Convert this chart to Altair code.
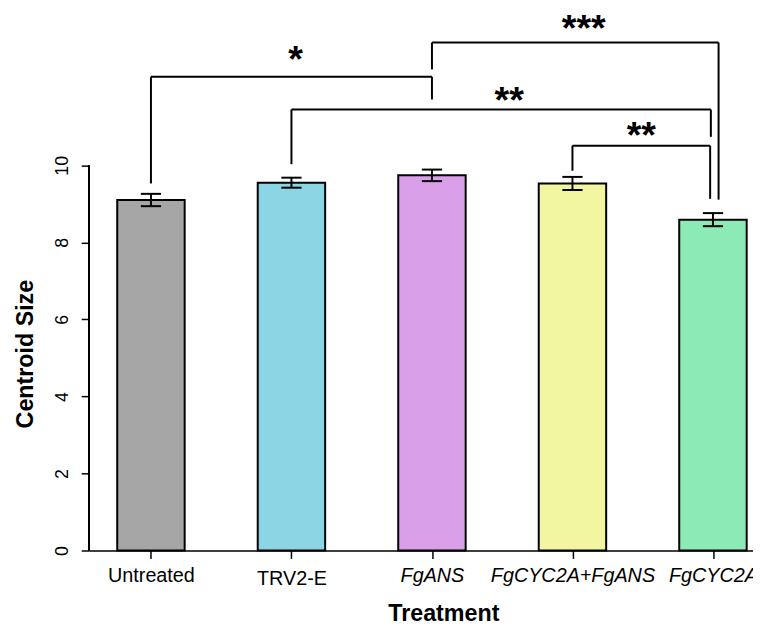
import altair as alt
import pandas as pd

# ---- data ----
treatments = ["Untreated", "TRV2-E", "FgANS", "FgCYC2A+FgANS", "FgCYC2A"]
italic_labels = ["FgANS", "FgCYC2A+FgANS", "FgCYC2A"]
means = [9.10, 9.55, 9.74, 9.53, 8.59]
ses = [0.16, 0.13, 0.15, 0.17, 0.17]
colors = ["#a6a6a6", "#8bd5e4", "#d99fe9", "#f3f6a0", "#8ceab7"]

# significance brackets: x in category positions (1..5), y in centroid-size units
br_x1 = [1.00, 3.00, 2.00, 4.00]
br_x2 = [3.00, 5.04, 4.985, 4.98]
br_top = [12.30, 13.19, 11.45, 10.51]
br_left_end = [9.53, 12.49, 10.03, 9.86]
br_right_end = [11.71, 9.11, 10.74, 9.13]
stars = ["*", "***", "**", "**"]
star_x = [2.03, 4.08, 3.55, 4.49]
star_y = [12.43, 13.24, 11.36, 10.46]

positions = list(range(1, len(treatments) + 1))

bars_df = pd.DataFrame({
    "treatment": treatments,
    "pos": positions,
    "mean": means,
    "se": ses,
})
br_df = pd.DataFrame({
    "x1": br_x1, "x2": br_x2, "top": br_top,
    "left_end": br_left_end, "right_end": br_right_end,
})
star_df = pd.DataFrame({"label": stars, "x": star_x, "y": star_y})

FONT = "Liberation Sans"

label_array = "[" + ",".join("'" + t + "'" for t in treatments) + "]"
italic_pos = [positions[treatments.index(t)] for t in italic_labels]
italic_test = "indexof([" + ",".join(str(p) for p in italic_pos) + "], datum.value) >= 0"

xscale = alt.Scale(domain=[0.56, 5.285], nice=False, zero=False)
yscale = alt.Scale(domain=[0, 14], nice=False, zero=True)

xaxis = alt.Axis(
    values=positions,
    labelExpr=label_array + "[round(datum.value) - 1]",
    labelFont=FONT, labelFontSize=20, labelColor="black",
    labelFontStyle={"condition": {"test": italic_test, "value": "italic"}, "value": "normal"},
    labelPadding={"condition": {"test": "datum.value == 2", "value": 26}, "value": 23},
    labelBaseline="alphabetic", labelAlign="center", labelAngle=0,
    labelFlush=False, labelOverlap=False,
    domain=True, domainColor="black", domainWidth=1.5,
    ticks=True, tickSize=8, tickColor="black", tickWidth=1.5,
    grid=False,
    titleFont=FONT, titleFontSize=23.5, titleFontWeight="bold", titleColor="black",
    titleX=358, titleY=71, titleAlign="center", titleBaseline="alphabetic",
)
yaxis = alt.Axis(
    values=[0, 2, 4, 6, 8, 10],
    labelFont=FONT, labelFontSize=18, labelColor="black",
    labelAngle=270, labelAlign="center", labelBaseline="alphabetic", labelPadding=14,
    labelFlush=False, labelOverlap=False,
    domain=False,
    ticks=True, tickSize=8, tickColor="black", tickWidth=1.5,
    grid=False,
    titleFont=FONT, titleFontSize=23.5, titleFontWeight="bold", titleColor="black",
    titleAngle=270, titleX=-57, titleY=346, titleAlign="center", titleBaseline="alphabetic",
)


def X(field):
    return alt.X(field, type="quantitative", scale=xscale, axis=xaxis, title="Treatment")


def Y(field):
    return alt.Y(field, type="quantitative", scale=yscale, axis=yaxis, title="Centroid Size")


base = alt.Chart(bars_df)

bars = base.transform_calculate(
    x_lo="datum.pos - 0.24", x_hi="datum.pos + 0.24"
).mark_bar(stroke="black", strokeWidth=2).encode(
    x=X("x_lo"), x2="x_hi:Q",
    y=Y("mean"), y2=alt.datum(0),
    color=alt.Color("treatment:N", scale=alt.Scale(domain=treatments, range=colors), legend=None),
)

err = base.transform_calculate(
    lo="datum.mean - datum.se", hi="datum.mean + datum.se"
).mark_rule(color="black", strokeWidth=2).encode(
    x=X("pos"), y=Y("lo"), y2="hi:Q",
)

caps = base.transform_calculate(
    cx1="datum.pos - 0.072", cx2="datum.pos + 0.072",
    lo="datum.mean - datum.se", hi="datum.mean + datum.se",
).transform_fold(["lo", "hi"], as_=["end", "yv"]).mark_rule(color="black", strokeWidth=2).encode(
    x=X("cx1"), x2="cx2:Q", y=Y("yv"),
)

yline = alt.Chart(bars_df).mark_rule(color="black", strokeWidth=1.5).encode(
    x=alt.value(0), y=alt.datum(0), y2=alt.datum(10),
)

br = alt.Chart(br_df)
br_h = br.mark_rule(color="black", strokeWidth=2).encode(x=X("x1"), x2="x2:Q", y=Y("top"))
br_l = br.mark_rule(color="black", strokeWidth=2).encode(x=X("x1"), y=Y("left_end"), y2="top:Q")
br_r = br.mark_rule(color="black", strokeWidth=2).encode(x=X("x2"), y=Y("right_end"), y2="top:Q")

star_text = alt.Chart(star_df).mark_text(
    font=FONT, fontSize=38, fontWeight="bold", color="black",
    align="center", baseline="alphabetic",
).encode(x=X("x"), y=Y("y"), text="label:N")

chart = alt.layer(bars, err, caps, yline, br_h, br_l, br_r, star_text).properties(
    width=671, height=545,
    autosize=alt.AutoSizeParams(type="none"),
    padding={"left": 82, "top": 0, "right": 0, "bottom": 74},
    background="white",
).configure_view(stroke=None)

chart.save("out.html", embed_options={"renderer": "svg", "actions": False})
